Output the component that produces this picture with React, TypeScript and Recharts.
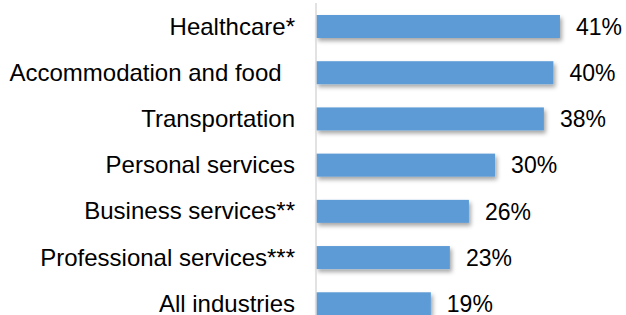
import React from 'react';
import { BarChart, Bar, XAxis, YAxis, LabelList } from 'recharts';

const categories = [
  'Healthcare*',
  'Accommodation and food  ',
  'Transportation',
  'Personal services',
  'Business services**',
  'Professional services***',
  'All industries',
];
const values = [41, 39.9, 38.3, 30.1, 25.7, 22.5, 19.3];
const valueLabels = ['41%', '40%', '38%', '30%', '26%', '23%', '19%'];

const data = categories.map((c, i) => ({ name: c, value: values[i], label: valueLabels[i] }));

const FONT = '"Liberation Sans", Arial, sans-serif';

const CategoryTick = (props: any) => {
  const { x, y, payload } = props;
  return (
    <text
      x={x}
      y={y}
      textAnchor="end"
      dominantBaseline="central"
      fontSize={24}
      fontFamily={FONT}
      fill="#000"
      xmlSpace="preserve"
      style={{ whiteSpace: 'pre' }}
    >
      {payload.value}
    </text>
  );
};

const ShadowBar = (props: any) => {
  const { x, y, width, height, fill } = props;
  return <rect x={x} y={y} width={width} height={height} fill={fill} filter="url(#barShadow)" />;
};

export default function App() {
  return (
    <div style={{ position: 'absolute', top: 0, left: 0, width: 626, height: 315, overflow: 'hidden', background: '#fff' }}>
      <BarChart
        width={626}
        height={330}
        data={data}
        layout="vertical"
        margin={{ top: 3, right: 12.5, bottom: 3.5, left: 0 }}
        barCategoryGap="50%"
      >
        <defs>
          <filter id="barShadow" x="-10%" y="-30%" width="130%" height="190%">
            <feDropShadow dx="2" dy="3" stdDeviation="2" floodColor="#000" floodOpacity="0.35" />
          </filter>
        </defs>
        <XAxis type="number" domain={[0, 50]} hide />
        <YAxis
          type="category"
          dataKey="name"
          width={316}
          tickLine={false}
          tickSize={0}
          tickMargin={21}
          axisLine={{ stroke: '#d9d9d9', strokeWidth: 1.5 }}
          tick={<CategoryTick />}
          interval={0}
        />
        <Bar dataKey="value" fill="#5B9BD5" barSize={23} isAnimationActive={false} shape={<ShadowBar />}>
          <LabelList
            dataKey="label"
            position="right"
            offset={16}
            fontSize={23}
            fontFamily={FONT}
            fill="#000"
          />
        </Bar>
      </BarChart>
    </div>
  );
}
